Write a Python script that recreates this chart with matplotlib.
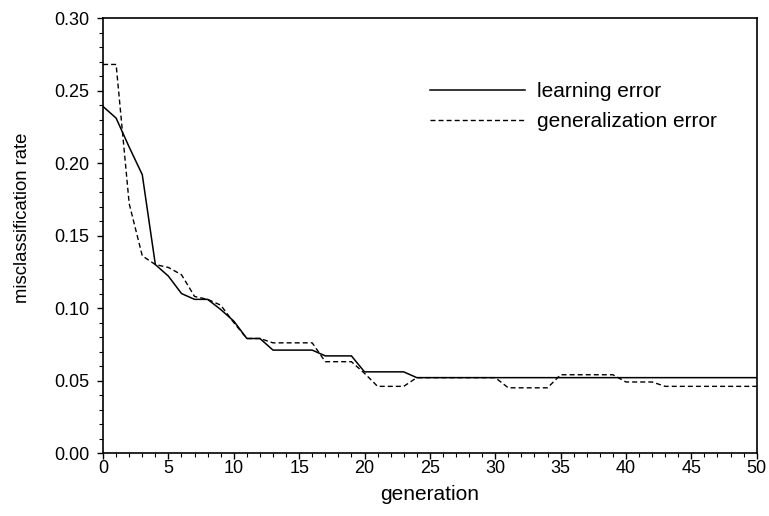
import matplotlib
matplotlib.use("Agg")
import matplotlib.pyplot as plt
from matplotlib.ticker import MultipleLocator
import numpy as np

plt.rcParams["font.family"] = ["Liberation Sans", "DejaVu Sans"]

generation = np.arange(0, 51)

learning_error = [
    0.239, 0.231, 0.211, 0.192, 0.130, 0.122, 0.110, 0.106, 0.106, 0.099,
    0.091, 0.079, 0.079, 0.071, 0.071, 0.071, 0.071, 0.067, 0.067, 0.067,
    0.056, 0.056, 0.056, 0.056, 0.052, 0.052, 0.052, 0.052, 0.052, 0.052,
    0.052, 0.052, 0.052, 0.052, 0.052, 0.052, 0.052, 0.052, 0.052, 0.052,
    0.052, 0.052, 0.052, 0.052, 0.052, 0.052, 0.052, 0.052, 0.052, 0.052,
    0.052,
]

generalization_error = [
    0.268, 0.268, 0.172, 0.136, 0.130, 0.128, 0.123, 0.108, 0.106, 0.102,
    0.090, 0.079, 0.079, 0.076, 0.076, 0.076, 0.076, 0.063, 0.063, 0.063,
    0.055, 0.046, 0.046, 0.046, 0.052, 0.052, 0.052, 0.052, 0.052, 0.052,
    0.052, 0.045, 0.045, 0.045, 0.045, 0.054, 0.054, 0.054, 0.054, 0.054,
    0.049, 0.049, 0.049, 0.046, 0.046, 0.046, 0.046, 0.046, 0.046, 0.046,
    0.046,
]

fig = plt.figure(figsize=(7.69, 5.16), dpi=100)
ax = fig.add_axes([0.134, 0.122, 0.850, 0.843])

ax.plot(generation, learning_error, color="black", lw=1.1, label="learning error")
ax.plot(generation, generalization_error, color="black", lw=1.0,
        dashes=(3.6, 2.2), label="generalization error")

ax.set_xlim(0, 50)
ax.set_ylim(0, 0.30)
ax.xaxis.set_major_locator(MultipleLocator(5))
ax.xaxis.set_minor_locator(MultipleLocator(1))
ax.yaxis.set_major_locator(MultipleLocator(0.05))
ax.yaxis.set_minor_locator(MultipleLocator(0.01))
ax.yaxis.set_major_formatter(plt.FormatStrFormatter("%.2f"))

ax.tick_params(which="major", direction="out", length=4.5, width=1.0,
               labelsize=13)
ax.tick_params(axis="x", which="major", pad=0.5)
ax.tick_params(axis="y", which="major", pad=5.5)
ax.tick_params(which="minor", direction="out", length=2.8, width=0.8)
for s in ax.spines.values():
    s.set_linewidth(1.2)

ax.set_xlabel("generation", fontsize=15, labelpad=6)
ax.set_ylabel("misclassification rate", fontsize=13.3)
ax.yaxis.set_label_coords(-0.110, 0.54)

ax.legend(loc="upper left", bbox_to_anchor=(0.5, 0.852), frameon=False,
          fontsize=15, handlelength=4.57, handletextpad=0.58, labelspacing=0.5,
          borderpad=0, borderaxespad=0)

fig.savefig("out.png", dpi=100)
